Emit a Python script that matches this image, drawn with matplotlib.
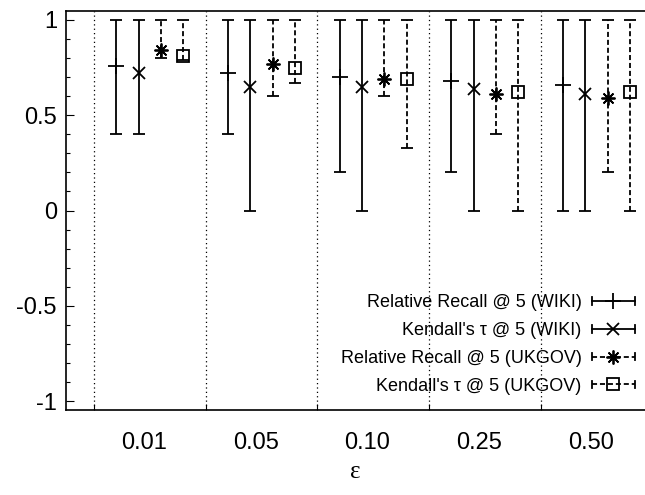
import matplotlib
matplotlib.use("Agg")
import matplotlib.pyplot as plt
import numpy as np
from matplotlib.legend_handler import HandlerBase
from matplotlib.lines import Line2D

plt.rcParams['font.family'] = ['Liberation Sans', 'DejaVu Sans']

categories = ["0.01", "0.05", "0.10", "0.25", "0.50"]
series_names = ["Relative Recall @ 5 (WIKI)", "Kendall's τ @ 5 (WIKI)",
                "Relative Recall @ 5 (UKGOV)", "Kendall's τ @ 5 (UKGOV)"]

rr_wiki_mean = [0.76, 0.72, 0.70, 0.68, 0.66]
rr_wiki_min = [0.40, 0.40, 0.20, 0.20, 0.00]
rr_wiki_max = [1.0, 1.0, 1.0, 1.0, 1.0]

kt_wiki_mean = [0.72, 0.65, 0.65, 0.64, 0.61]
kt_wiki_min = [0.40, 0.00, 0.00, 0.00, 0.00]
kt_wiki_max = [1.0, 1.0, 1.0, 1.0, 1.0]

rr_ukgov_mean = [0.84, 0.77, 0.69, 0.61, 0.59]
rr_ukgov_min = [0.80, 0.60, 0.60, 0.40, 0.20]
rr_ukgov_max = [1.0, 1.0, 1.0, 1.0, 1.0]

kt_ukgov_mean = [0.81, 0.75, 0.69, 0.62, 0.62]
kt_ukgov_min = [0.79, 0.67, 0.33, 0.00, 0.00]
kt_ukgov_max = [1.0, 1.0, 1.0, 1.0, 1.0]

means = [rr_wiki_mean, kt_wiki_mean, rr_ukgov_mean, kt_ukgov_mean]
mins = [rr_wiki_min, kt_wiki_min, rr_ukgov_min, kt_ukgov_min]
maxs = [rr_wiki_max, kt_wiki_max, rr_ukgov_max, kt_ukgov_max]

offsets = [-0.2, 0.0, 0.2, 0.4]
markers = ['+', 'x', (8, 2, 0), 's']
msizes = [12, 9, 10, 9]
dashed = (0, (2.8, 1.6))
lstyles = ['-', '-', dashed, dashed]
LW = 1.3

fig = plt.figure(figsize=(6.45, 4.95), dpi=100)
ax = fig.add_axes([66/645, 85/495, 579/645, 399/495])

x = np.arange(len(categories))
handles = []
for k in range(4):
    m = np.array(means[k]); lo = np.array(mins[k]); hi = np.array(maxs[k])
    xs = x + offsets[k]
    eb = ax.errorbar(xs, m, yerr=[m - lo, hi - m], fmt='none', ecolor='black',
                     elinewidth=LW, capsize=4.5, capthick=LW)
    eb[2][0].set_linestyle(lstyles[k])
    ax.plot(xs, m, linestyle='none', marker=markers[k], ms=msizes[k],
            mfc='none' if markers[k] == 's' else 'black', mec='black', mew=LW)
    handles.append(Line2D([], [], color='black', lw=LW, linestyle=lstyles[k],
                          marker=markers[k], ms=msizes[k], mec='black',
                          mfc='none' if markers[k] == 's' else 'black', mew=LW))


class HErrHandler(HandlerBase):
    def __init__(self, ls, **kw):
        super().__init__(**kw)
        self.ls = ls

    def create_artists(self, legend, h, xdescent, ydescent, width, height, fontsize, trans):
        y = height / 2 - ydescent
        x0, x1 = -xdescent, -xdescent + width
        cap = 0.3 * height
        arts = [Line2D([x0, x1], [y, y], color='black', lw=LW, linestyle=self.ls),
                Line2D([x0, x0], [y - cap, y + cap], color='black', lw=LW),
                Line2D([x1, x1], [y - cap, y + cap], color='black', lw=LW),
                Line2D([(x0 + x1) / 2], [y], linestyle='none', marker=h.get_marker(),
                       ms=h.get_markersize(), mec='black', mfc=h.get_markerfacecolor(), mew=LW)]
        for a in arts:
            a.set_transform(trans)
        return arts


hmap = {h: HErrHandler(lstyles[i]) for i, h in enumerate(handles)}
ax.legend(handles, series_names, handler_map=hmap, loc='lower right',
          bbox_to_anchor=(0.995, 0.02), frameon=False, markerfirst=False,
          fontsize=13, handlelength=2.4, labelspacing=0.6, borderaxespad=0,
          handletextpad=0.55)

# separators
seps = x - 0.4
for s in seps:
    ax.axvline(s, color='black', lw=0.9, linestyle=(0, (1, 2.5)), zorder=0)

ax.set_xlim(-0.649, 4.534)
ax.set_ylim(-1.047, 1.047)
ax.set_xticks(seps)
ax.set_xticklabels([])
ax.set_xticks(x + 0.05, minor=True)
ax.set_xticklabels(categories, minor=True)
ax.tick_params(axis='x', which='major', direction='in', length=4, width=0.8, top=False)
ax.tick_params(axis='x', which='minor', length=0, labelsize=17, pad=16)

ax.set_yticks([-1, -0.5, 0, 0.5, 1])
ax.set_yticklabels(['-1', '-0.5', '0', '0.5', '1'])
ax.set_yticks(np.arange(-1, 1.01, 0.1), minor=True)
ax.tick_params(axis='y', which='major', direction='in', length=6, width=0.8, labelsize=17, pad=6.5, right=False)
ax.tick_params(axis='y', which='minor', direction='in', length=3, width=0.8, right=False)

ax.spines['right'].set_visible(False)
for sp in ['left', 'bottom', 'top']:
    ax.spines[sp].set_linewidth(1.2)

ax.set_xlabel('ε', fontsize=18, family=['Liberation Serif', 'DejaVu Serif'], labelpad=5)

fig.savefig('out.png', dpi=100)
